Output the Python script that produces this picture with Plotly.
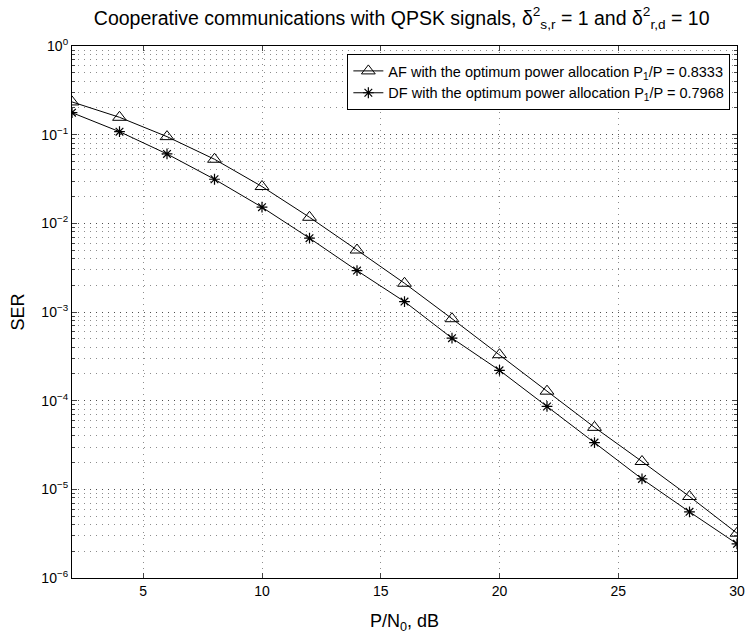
import plotly.graph_objects as go

snr_db = [2, 4, 6, 8, 10, 12, 14, 16, 18, 20, 22, 24, 26, 28, 30]
ser_af = [0.234, 0.157, 0.095, 0.0528, 0.026, 0.0117, 0.0050, 0.00211, 0.00084, 0.00033,
          0.000128, 5.0e-5, 2.06e-5, 8.3e-6, 3.2e-6]
ser_df = [0.177, 0.108, 0.0606, 0.0314, 0.0152, 0.0068, 0.00293, 0.00131, 0.000507, 0.00022,
          8.6e-5, 3.37e-5, 1.31e-5, 5.57e-6, 2.43e-6]

y_tickvals = [1, 1e-1, 1e-2, 1e-3, 1e-4, 1e-5, 1e-6]
y_ticktext = ["10<sup>0</sup>", "10<sup>−1</sup>", "10<sup>−2</sup>", "10<sup>−3</sup>",
              "10<sup>−4</sup>", "10<sup>−5</sup>", "10<sup>−6</sup>"]
x_tickvals = [5, 10, 15, 20, 25, 30]

name_af = "AF with the optimum power allocation P<sub>1</sub>/P = 0.8333"
name_df = "DF with the optimum power allocation P<sub>1</sub>/P = 0.7968"

FONT = "Liberation Sans, Arial, Helvetica, sans-serif"

fig = go.Figure()
fig.add_trace(go.Scatter(
    x=snr_db, y=ser_af, mode="lines+markers", name=name_af,
    line=dict(color="black", width=1),
    marker=dict(symbol="triangle-up-open", size=12, color="black", line=dict(width=1, color="black")),
))
fig.add_trace(go.Scatter(
    x=snr_db, y=ser_df, mode="lines+markers", name=name_df,
    line=dict(color="black", width=1),
    marker=dict(symbol="asterisk-open", size=9, color="black", line=dict(width=1.2, color="black")),
))

grid_col = "rgba(0,0,0,0.45)"
grid_dash = "1px,5px"
fig.update_layout(
    width=755, height=638,
    margin=dict(l=72, r=10, t=46, b=60),
    paper_bgcolor="white", plot_bgcolor="white",
    font=dict(family=FONT, size=14, color="black"),
    title=dict(
        text="Cooperative communications with QPSK signals, δ<sup>2</sup><sub>s,r</sub> = 1 and δ<sup>2</sup><sub>r,d</sub> = 10",
        x=0.532, xanchor="center", y=0.972, yanchor="middle",
        font=dict(family=FONT, size=19.5, color="black"),
    ),
    showlegend=True,
    legend=dict(
        x=0.99, y=0.985, xanchor="right", yanchor="top",
        bgcolor="white", bordercolor="black", borderwidth=1,
        font=dict(family=FONT, size=14.5, color="black"),
        tracegroupgap=0, itemwidth=30,
    ),
    xaxis=dict(
        range=[2, 30], tickvals=x_tickvals, ticks="inside", ticklen=5,
        showline=True, linecolor="black", linewidth=1.2, mirror="ticks",
        showgrid=True, gridcolor=grid_col, griddash=grid_dash, gridwidth=1,
        zeroline=False,
        tickfont=dict(family=FONT, size=14),
        title=dict(text="P/N<sub>0</sub>, dB", font=dict(family=FONT, size=18), standoff=16),
    ),
    yaxis=dict(
        type="log", range=[-6, 0], tickvals=y_tickvals, ticktext=y_ticktext,
        ticks="inside", ticklen=5,
        showline=True, linecolor="black", linewidth=1.2, mirror="ticks",
        showgrid=True, gridcolor=grid_col, griddash=grid_dash, gridwidth=1,
        zeroline=False,
        tickfont=dict(family=FONT, size=14),
        minor=dict(dtick="D1", ticks="inside", ticklen=3, showgrid=True,
                   gridcolor=grid_col, griddash=grid_dash, gridwidth=1),
        title=dict(text="SER", font=dict(family=FONT, size=18), standoff=12),
    ),
)

fig.write_html("out.html", config={"displayModeBar": False},
               post_script="document.body.style.margin='0';")
